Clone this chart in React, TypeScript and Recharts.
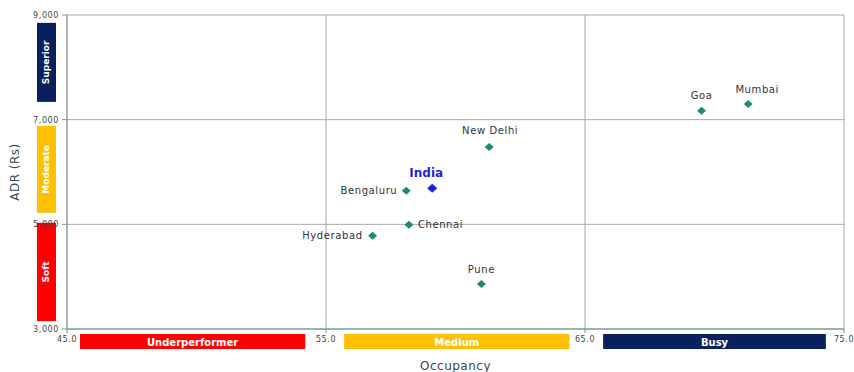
import {
  CartesianGrid,
  ReferenceArea,
  Scatter,
  ScatterChart,
  XAxis,
  YAxis,
} from 'recharts';

// city points
const cities = ['Goa', 'Mumbai', 'New Delhi', 'Bengaluru', 'Chennai', 'Hyderabad', 'Pune'];
const cityOccupancy = [69.5, 71.3, 61.3, 58.1, 58.2, 56.8, 61.0];
const cityAdr = [7170, 7300, 6480, 5640, 4990, 4780, 3860];

const indiaName = ['India'];
const indiaOccupancy = [59.1];
const indiaAdr = [5690];

const occupancyTicks = [45, 55, 65, 75];
const adrTicks = [3000, 5000, 7000, 9000];

// quadrant bands
const occBandNames = ['Underperformer', 'Medium', 'Busy'];
const occBandFrom = [45.5, 55.7, 65.7];
const occBandTo = [54.2, 64.4, 74.3];

const adrBandNames = ['Superior', 'Moderate', 'Soft'];
const adrBandFrom = [7340, 5220, 3150];
const adrBandTo = [8850, 6880, 5030];

const bandColors: Record<string, string> = {
  Underperformer: '#FF0000',
  Medium: '#FFC000',
  Busy: '#0A1F5E',
  Superior: '#0A1F5E',
  Moderate: '#FFC000',
  Soft: '#FF0000',
};

// label placement per point: [dx, dy, anchor]
const labelPlace: Record<string, [number, number, string]> = {
  Goa: [0, -12, 'middle'],
  Mumbai: [9, -11, 'middle'],
  'New Delhi': [1, -13, 'middle'],
  Bengaluru: [-9, 3, 'end'],
  Chennai: [9, 3, 'start'],
  Hyderabad: [-10, 3, 'end'],
  Pune: [0, -11, 'middle'],
  India: [-6, -11, 'middle'],
};

const font = '"DejaVu Sans", "Liberation Sans", sans-serif';

const cityData = cities.map((name, i) => ({ name, occ: cityOccupancy[i], adr: cityAdr[i] }));
const indiaData = indiaName.map((name, i) => ({ name, occ: indiaOccupancy[i], adr: indiaAdr[i] }));

function Point(props: any, color: string, bold: boolean) {
  const { cx, cy, payload } = props;
  const [dx, dy, anchor] = labelPlace[payload.name] ?? [0, -10, 'middle'];
  const r = bold ? 5 : 4.5;
  return (
    <g>
      <polygon
        points={`${cx},${cy - r + 0.5} ${cx + r},${cy} ${cx},${cy + r - 0.5} ${cx - r},${cy}`}
        fill={color}
      />
      <text
        x={cx + dx}
        y={cy + dy}
        textAnchor={anchor as any}
        fontFamily={font}
        fontSize={bold ? 12 : 10}
        fontWeight={bold ? 700 : 400}
        letterSpacing={bold ? 0 : 0.6}
        fill={bold ? '#1F1FE0' : '#333'}
      >
        {payload.name}
      </text>
    </g>
  );
}

function BottomBand(props: any, name: string) {
  const { x, y, width, height } = props;
  const top = y + height + 5;
  return (
    <g>
      <rect x={x} y={top} width={width} height={15} fill={bandColors[name]} />
      <text
        x={x + width / 2}
        y={top + 11.5}
        textAnchor="middle"
        fontFamily={font}
        fontSize={10}
        fontWeight={700}
        fill="#fff"
      >
        {name}
      </text>
    </g>
  );
}

function SideBand(props: any, name: string) {
  const { x, y, height } = props;
  const left = x - 30;
  const cx = left + 9.5;
  const cy = y + height / 2;
  return (
    <g>
      <rect x={left} y={y} width={19} height={height} fill={bandColors[name]} />
      <text
        x={cx}
        y={cy + 3}
        textAnchor="middle"
        transform={`rotate(-90 ${cx} ${cy})`}
        fontFamily={font}
        fontSize={9}
        fontWeight={700}
        fill="#fff"
      >
        {name}
      </text>
    </g>
  );
}

export default function App() {
  return (
    <div style={{ position: 'absolute', left: 0, top: 0, background: '#fff' }}>
      <ScatterChart
        width={854}
        height={372}
        margin={{ top: 15, right: 10, bottom: 0, left: 0 }}
      >
        <CartesianGrid stroke="#a8a8a8" strokeWidth={1} />
        <XAxis
          type="number"
          dataKey="occ"
          domain={[45, 75]}
          ticks={occupancyTicks}
          tickFormatter={(v: number) => v.toFixed(1)}
          height={43}
          tickSize={4}
          tickMargin={3}
          stroke="#5E9A8C"
          tick={{ fontSize: 8, fontFamily: font, fill: '#444', letterSpacing: 0.6 }}
          label={{
            value: 'Occupancy',
            position: 'insideBottom',
            offset: 2,
            fontSize: 12,
            fontFamily: font,
            fill: '#3A4656',
            letterSpacing: 0.5,
          }}
        />
        <YAxis
          type="number"
          dataKey="adr"
          domain={[3000, 9000]}
          ticks={adrTicks}
          tickFormatter={(v: number) => v.toLocaleString('en-US')}
          width={67}
          tickSize={5}
          tickMargin={3}
          stroke="#7F9C97"
          tick={{ fontSize: 8, fontFamily: font, fill: '#444', letterSpacing: 0.6 }}
          label={{
            content: () => (
              <text
                x={19}
                y={172}
                textAnchor="middle"
                transform="rotate(-90 19 172)"
                fontFamily={font}
                fontSize={12}
                letterSpacing={0.5}
                fill="#3A4656"
              >
                ADR (Rs)
              </text>
            ),
          }}
        />
        {occBandNames.map((name, i) => (
          <ReferenceArea
            key={name}
            x1={occBandFrom[i]}
            x2={occBandTo[i]}
            ifOverflow="visible"
            shape={(p: any) => BottomBand(p, name)}
          />
        ))}
        {adrBandNames.map((name, i) => (
          <ReferenceArea
            key={name}
            y1={adrBandFrom[i]}
            y2={adrBandTo[i]}
            ifOverflow="visible"
            shape={(p: any) => SideBand(p, name)}
          />
        ))}
        <Scatter
          data={cityData}
          isAnimationActive={false}
          shape={(p: any) => Point(p, '#1E8A6E', false)}
        />
        <Scatter
          data={indiaData}
          isAnimationActive={false}
          shape={(p: any) => Point(p, '#1F1FE0', true)}
        />
      </ScatterChart>
    </div>
  );
}
